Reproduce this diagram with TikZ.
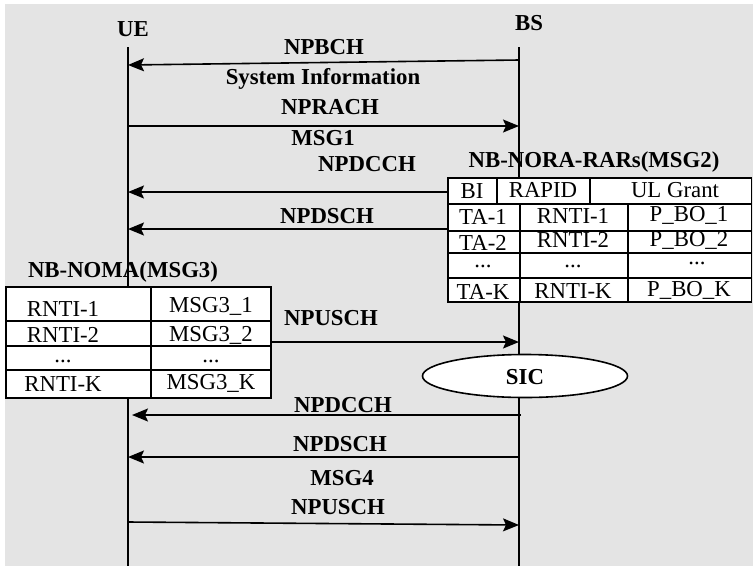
\documentclass[tikz,border=0pt]{standalone}
\usepackage{fontspec}
\setmainfont{Liberation Serif}
\usetikzlibrary{arrows.meta,shapes.geometric}
\definecolor{bggray}{RGB}{228,228,228}
\tikzset{
  life/.style={line width=1.6pt},
  msg/.style={line width=1.6pt,-{Stealth[length=16pt,width=13pt,inset=3pt]}},
  lbl/.style={font=\fontsize{22.8}{26}\selectfont\bfseries,inner sep=0pt,text height=15pt,text depth=0pt},
  cell/.style={font=\fontsize{22.8}{26}\selectfont,inner sep=0pt,text height=15pt,text depth=0pt},
  tbl/.style={line width=1.6pt,fill=white},
  tline/.style={line width=1.6pt}
}
\begin{document}
\begin{tikzpicture}[x=1pt,y=-1pt]
\useasboundingbox (0,0) rectangle (753,566);
\fill[white] (0,0) rectangle (753,566);
\fill[bggray] (5,4) rectangle (753,566);

% lifelines
\coordinate (ueT) at (128,47);
\coordinate (ueB) at (128,566);
\coordinate (bsT) at (519,47);
\coordinate (bsB) at (519,566);
\draw[life] (ueT) -- (ueB);
\draw[life] (bsT) -- (bsB);

\node[lbl] (ue) at (133,29) {UE};
\node[lbl] (bs) at (529,23) {BS};

% tables
\draw[tbl] (448,178) rectangle (751.5,302);
\draw[tline] (448,204) -- (751.5,204);
\draw[tline] (448,231) -- (751.5,231);
\draw[tline] (448,253) -- (751.5,253);
\draw[tline] (448,278) -- (751.5,278);
\draw[tline] (497,178) -- (497,204);
\draw[tline] (590,178) -- (590,204);
\draw[tline] (520,204) -- (520,302);
\draw[tline] (628,204) -- (628,302);

\draw[tbl] (6,287) rectangle (271,398);
\draw[tline] (6,321) -- (271,321);
\draw[tline] (6,346) -- (271,346);
\draw[tline] (6,370) -- (271,370);
\draw[tline] (151,287) -- (151,398);

% MSG2 table text
\node[cell] (bi) at (472,191) {BI};
\node[cell] (rapid) at (543,190) {RAPID};
\node[cell] (ulg) at (675,190) {UL Grant};
\node[cell] (ta1) at (483,217) {TA-1};
\node[cell] (rn1) at (573,216) {RNTI-1};
\node[cell] (pb1) at (689,214) {P\_BO\_1};
\node[cell] (ta2) at (483,242.5) {TA-2};
\node[cell] (rn2) at (573,239.5) {RNTI-2};
\node[cell] (pb2) at (689,238.5) {P\_BO\_2};
\node[cell] (td) at (483,260) {...};
\node[cell] (rd) at (573,260) {...};
\node[cell] (pd) at (697,257) {...};
\node[cell] (tak) at (483,292) {TA-K};
\node[cell] (rnk) at (573,291) {RNTI-K};
\node[cell] (pbk) at (689,289) {P\_BO\_K};

% MSG3 table text
\node[cell] (m1a) at (63,309) {RNTI-1};
\node[cell] (m1b) at (211,305) {MSG3\_1};
\node[cell] (m2a) at (63,335) {RNTI-2};
\node[cell] (m2b) at (211,334) {MSG3\_2};
\node[cell] (m3a) at (63,355) {...};
\node[cell] (m3b) at (211,355) {...};
\node[cell] (m4a) at (63,384) {RNTI-K};
\node[cell] (m4b) at (211,382) {MSG3\_K};

% SIC
\node[ellipse,draw,line width=1.6pt,fill=white,minimum width=205pt,minimum height=43pt,inner sep=0pt] (sic) at (525,376) {};
\node[lbl] (sict) at (525,377) {SIC};

% labels
\node[lbl] (l1) at (324,47) {NPBCH};
\node[lbl] (l2) at (323,77) {System Information};
\node[lbl] (l3) at (330,107) {NPRACH};
\node[lbl] (l4) at (323,138) {MSG1};
\node[lbl] (l5) at (367,164) {NPDCCH};
\node[lbl] (l6) at (594,160) {NB-NORA-RARs(MSG2)};
\node[lbl] (l7) at (327,216) {NPDSCH};
\node[lbl] (l8) at (123,270) {NB-NOMA(MSG3)};
\node[lbl] (l9) at (331,318) {NPUSCH};
\node[lbl] (l10) at (343,405) {NPDCCH};
\node[lbl] (l11) at (340,444) {NPDSCH};
\node[lbl] (l12) at (342,478) {MSG4};
\node[lbl] (l13) at (338,507) {NPUSCH};

% arrow endpoints
\coordinate (a1s) at (519,60);  \coordinate (a1e) at (128,65);
\coordinate (a2s) at (128,126); \coordinate (a2e) at (519,126);
\coordinate (a3s) at (448,192); \coordinate (a3e) at (128,192);
\coordinate (a4s) at (448,229); \coordinate (a4e) at (128,229);
\coordinate (a5s) at (271,342); \coordinate (a5e) at (519,342);
\coordinate (a6s) at (521,415); \coordinate (a6e) at (132,415);
\coordinate (a7s) at (519,457); \coordinate (a7e) at (128,457);
\coordinate (a8s) at (128,522); \coordinate (a8e) at (519,525);

\draw[msg] (a1s) -- (a1e);
\draw[msg] (a2s) -- (a2e);
\draw[msg] (a3s) -- (a3e);
\draw[msg] (a4s) -- (a4e);
\draw[msg] (a5s) -- (a5e);
\draw[msg] (a6s) -- (a6e);
\draw[msg] (a7s) -- (a7e);
\draw[msg] (a8s) -- (a8e);
\end{tikzpicture}
\end{document}
